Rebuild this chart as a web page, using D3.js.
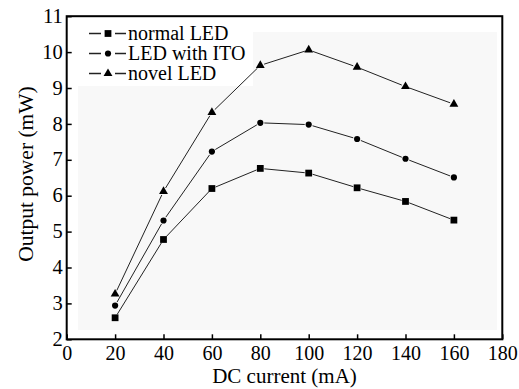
<!DOCTYPE html>
<html>
<head>
<meta charset="utf-8">
<script src="https://cdn.jsdelivr.net/npm/d3@7"></script>
<style>
  body { margin: 0; background: #fff; }
</style>
</head>
<body>
<svg id="chart" width="519" height="389"></svg>
<script>
// data
const currents = [20, 40, 60, 80, 100, 120, 140, 160];
const normalLED = [2.60, 4.78, 6.20, 6.76, 6.63, 6.22, 5.84, 5.32];
const ledWithITO = [2.94, 5.31, 7.23, 8.03, 7.98, 7.58, 7.03, 6.51];
const novelLED = [3.26, 6.12, 8.32, 9.63, 10.06, 9.58, 9.04, 8.55];
const seriesNames = ["normal LED", "LED with ITO", "novel LED"];
const xTicks = [0, 20, 40, 60, 80, 100, 120, 140, 160, 180];
const yTicks = [2, 3, 4, 5, 6, 7, 8, 9, 10, 11];

const serif = "'Liberation Serif', 'Times New Roman', serif";
const svg = d3.select("#chart").attr("font-family", serif);
const plot = {left: 66.7, right: 502.3, top: 16.2, bottom: 339.3};

const x = d3.scaleLinear().domain([0, 180]).range([plot.left, plot.right]);
const y = d3.scaleLinear().domain([2, 11]).range([plot.bottom, plot.top]);

// faint scanned-paper shading of the plot area
svg.append("rect")
  .attr("x", 78).attr("y", 32)
  .attr("width", 419).attr("height", 298)
  .attr("fill", "#f8f8f8");
svg.append("rect")
  .attr("x", 78).attr("y", 18)
  .attr("width", 175).attr("height", 68)
  .attr("fill", "#fff");

// axes with inward ticks
const xAxis = svg.append("g")
  .attr("transform", "translate(0," + plot.bottom + ")")
  .call(d3.axisBottom(x).tickValues(xTicks).tickSizeInner(-5).tickSizeOuter(0).tickPadding(0))
  .attr("font-family", serif).attr("font-size", 20);
xAxis.select(".domain").remove();
xAxis.selectAll(".tick line").attr("stroke", "#000").attr("stroke-width", 1.5);
xAxis.selectAll(".tick text")
  .attr("fill", "#000")
  .attr("y", 21).attr("dy", 0);

const yAxis = svg.append("g")
  .attr("transform", "translate(" + plot.left + ",0)")
  .call(d3.axisLeft(y).tickValues(yTicks).tickSizeInner(-5).tickSizeOuter(0).tickPadding(0))
  .attr("font-family", serif).attr("font-size", 20.5);
yAxis.select(".domain").remove();
yAxis.selectAll(".tick line").attr("stroke", "#000").attr("stroke-width", 1.5);
yAxis.selectAll(".tick text")
  .attr("fill", "#000")
  .attr("x", -4).attr("dy", "0.3em");

// frame
svg.append("rect")
  .attr("x", plot.left).attr("y", plot.top)
  .attr("width", plot.right - plot.left).attr("height", plot.bottom - plot.top)
  .attr("fill", "none")
  .attr("stroke", "#000")
  .attr("stroke-width", 2);

// axis titles
svg.append("text")
  .attr("x", (plot.left + plot.right) / 2).attr("y", 383)
  .attr("text-anchor", "middle")
  .attr("font-size", 21)
  .text("DC current (mA)");

svg.append("text")
  .attr("transform", "translate(33,174) rotate(-90)")
  .attr("text-anchor", "middle")
  .attr("font-size", 21.5)
  .text("Output power (mW)");

// series
const symbols = [
  d3.symbol().type(d3.symbolSquare).size(46),
  d3.symbol().type(d3.symbolCircle).size(30),
  d3.symbol().type(d3.symbolTriangle).size(34)
];
const allSeries = [normalLED, ledWithITO, novelLED];
const gap = 4;

allSeries.forEach((vals, si) => {
  const pts = currents.map((c, i) => [x(c), y(vals[i])]);
  const g = svg.append("g").attr("class", "series-" + si);

  // segments stop a little short of the markers
  for (let i = 0; i < pts.length - 1; i++) {
    const [x1, y1] = pts[i], [x2, y2] = pts[i + 1];
    const len = Math.hypot(x2 - x1, y2 - y1);
    const ux = (x2 - x1) / len, uy = (y2 - y1) / len;
    g.append("line")
      .attr("x1", x1 + ux * gap).attr("y1", y1 + uy * gap)
      .attr("x2", x2 - ux * gap).attr("y2", y2 - uy * gap)
      .attr("stroke", "#222")
      .attr("stroke-width", 1);
  }

  g.selectAll("path")
    .data(pts)
    .enter().append("path")
    .attr("d", symbols[si])
    .attr("transform", d => "translate(" + d[0] + "," + d[1] + ")")
    .attr("fill", "#000");
});

// legend
const legendY = [33.5, 53.5, 73.5];
seriesNames.forEach((name, si) => {
  const ly = legendY[si];
  const lg = svg.append("g").attr("class", "legend");
  lg.append("line")
    .attr("x1", 89).attr("x2", 101).attr("y1", ly).attr("y2", ly)
    .attr("stroke", "#222").attr("stroke-width", 1.5);
  lg.append("line")
    .attr("x1", 115).attr("x2", 126).attr("y1", ly).attr("y2", ly)
    .attr("stroke", "#222").attr("stroke-width", 1.5);
  lg.append("path")
    .attr("d", symbols[si])
    .attr("transform", "translate(108," + ly + ")")
    .attr("fill", "#000");
  lg.append("text")
    .attr("x", 128).attr("y", ly + 6)
    .attr("font-size", 20)
    .text(name);
});
</script>
</body>
</html>
